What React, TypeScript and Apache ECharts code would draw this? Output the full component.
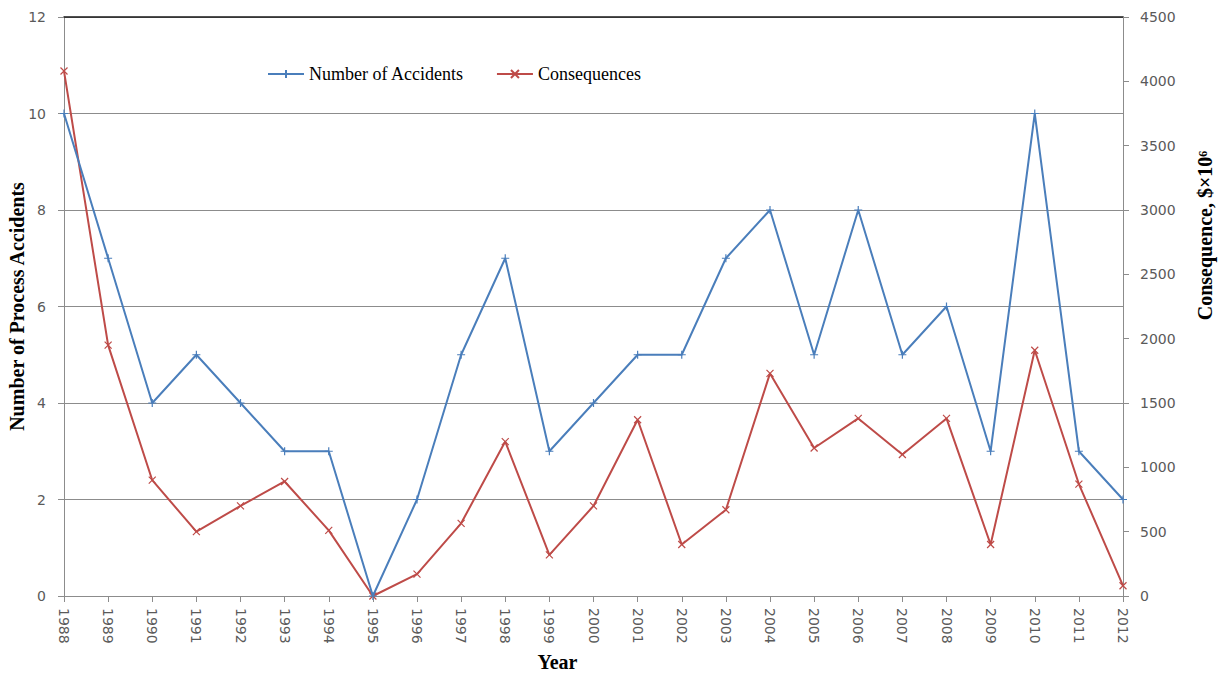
import React, { useEffect, useRef } from "react";
import * as echarts from "echarts";

const years = ["1988","1989","1990","1991","1992","1993","1994","1995","1996","1997","1998","1999","2000","2001","2002","2003","2004","2005","2006","2007","2008","2009","2010","2011","2012"];
const accidents = [10, 7, 4, 5, 4, 3, 3, 0, 2, 5, 7, 3, 4, 5, 5, 7, 8, 5, 8, 5, 6, 3, 10, 3, 2];
const consequences = [4080, 1950, 900, 500, 700, 890, 510, 0, 170, 565, 1200, 320, 700, 1370, 400, 670, 1730, 1150, 1380, 1100, 1380, 400, 1910, 870, 80];

const BLUE = "#4a7ebb";
const RED = "#be4b48";
const PLUS = "path://M0,5L10,5M5,0L5,10";
const CROSS = "path://M0,0L10,10M10,0L0,10";

export default function App() {
  const ref = useRef<HTMLDivElement>(null);
  useEffect(() => {
    document.body.style.margin = "0";
    const chart = echarts.init(ref.current!, null, { renderer: "svg" });
    const tickLabel = { color: "#5a5a5a", fontFamily: "DejaVu Sans", fontSize: 14 };
    const titleStyle = { color: "#000", fontFamily: "Liberation Serif", fontSize: 20, fontWeight: "bold" as const };
    chart.setOption({
      animation: false,
      backgroundColor: "#fff",
      grid: { left: 64, right: 99, top: 17, bottom: 77, containLabel: false, outerBoundsMode: "none" },
      legend: {
        left: 262,
        top: 60,
        itemWidth: 36,
        itemHeight: 10,
        itemGap: 32,
        textStyle: { fontFamily: "Liberation Serif", fontSize: 18, color: "#000" },
        data: ["Number of Accidents", "Consequences"],
      },
      xAxis: [
        {
          type: "category",
          data: years,
          boundaryGap: false,
          name: "Year",
          nameLocation: "middle",
          nameGap: 56,
          nameMoveOverlap: false,
          nameTextStyle: { ...titleStyle, padding: [0, 72, 0, 0] },
          axisLine: { onZero: false, lineStyle: { color: "#8c8c8c", width: 1 } },
          axisTick: { show: true, length: 6, lineStyle: { color: "#8c8c8c" } },
          axisLabel: { ...tickLabel, rotate: -90, margin: 12, interval: 0 },
          splitLine: { show: false },
        },
        {
          type: "category",
          data: years,
          boundaryGap: false,
          position: "top",
          axisLine: { onZero: false, lineStyle: { color: "#1a1a1a", width: 1.5 } },
          axisTick: { show: false },
          axisLabel: { show: false },
          splitLine: { show: false },
        },
      ],
      yAxis: [
        {
          type: "value",
          min: 0,
          max: 12,
          interval: 2,
          name: "Number of Process Accidents",
          nameLocation: "middle",
          nameGap: 37,
          nameMoveOverlap: false,
          nameTextStyle: titleStyle,
          axisLine: { show: true, lineStyle: { color: "#8c8c8c" } },
          axisTick: { show: true, length: 6, lineStyle: { color: "#8c8c8c" } },
          axisLabel: { ...tickLabel, margin: 18 },
          splitLine: { show: true, lineStyle: { color: "#8c8c8c", width: 1 } },
        },
        {
          type: "value",
          min: 0,
          max: 4500,
          interval: 500,
          position: "right",
          name: "Consequence, $\u00d710\u2076",
          nameLocation: "middle",
          nameGap: 72,
          nameMoveOverlap: false,
          nameTextStyle: { ...titleStyle, padding: [0, 0, 0, 142] },
          axisLine: { show: true, lineStyle: { color: "#8c8c8c" } },
          axisTick: { show: true, length: 6, lineStyle: { color: "#8c8c8c" } },
          axisLabel: { ...tickLabel, margin: 17, formatter: (v: number) => String(v) },
          splitLine: { show: false },
        },
      ],
      series: [
        {
          name: "Number of Accidents",
          type: "line",
          data: accidents,
          yAxisIndex: 0,
          symbol: PLUS,
          symbolSize: 8,
          lineStyle: { color: BLUE, width: 2 },
          itemStyle: { color: BLUE, borderColor: BLUE, borderWidth: 1.2 },
          z: 3,
        },
        {
          name: "Consequences",
          type: "line",
          data: consequences,
          yAxisIndex: 1,
          symbol: CROSS,
          symbolSize: 7,
          lineStyle: { color: RED, width: 2 },
          itemStyle: { color: RED, borderColor: RED, borderWidth: 1.2 },
          z: 2,
        },
      ],
    });
    return () => chart.dispose();
  }, []);
  return <div ref={ref} style={{ width: 1222, height: 673 }} />;
}
